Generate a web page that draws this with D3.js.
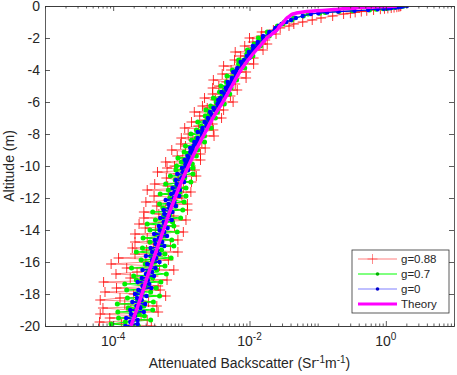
<!DOCTYPE html>
<html>
<head>
<meta charset="utf-8">
<title>Attenuated backscatter vs altitude</title>
<script src="https://d3js.org/d3.v7.min.js"></script>
<style>
  body { margin: 0; background: #fff; }
  text { font-family: "Liberation Sans", Arial, Helvetica, sans-serif; fill: #262626; }
</style>
</head>
<body>
<div id="chart"></div>
<script>
// altitude samples (m) shared by the three simulated profiles
var altitude = [0, -0.025, -0.05, -0.075, -0.1, -0.125, -0.15, -0.175, -0.2, -0.25, -0.3, -0.35, -0.4, -0.45,
  -0.5, -0.625, -0.75, -0.875,
  -1, -1.125, -1.25, -1.375, -1.5, -1.625, -1.75, -1.875,
  -2, -2.125, -2.25, -2.375, -2.5, -2.625, -2.75, -2.875,
  -3, -3.125, -3.25, -3.375, -3.5, -3.625, -3.75, -3.875,
  -4, -4.125, -4.25, -4.375, -4.5, -4.625, -4.75, -4.875,
  -5, -5.125, -5.25, -5.375, -5.5, -5.625, -5.75, -5.875,
  -6, -6.125, -6.25, -6.375, -6.5, -6.625, -6.75, -6.875,
  -7, -7.125, -7.25, -7.375, -7.5, -7.625, -7.75, -7.875,
  -8, -8.125, -8.25, -8.375, -8.5, -8.625, -8.75, -8.875,
  -9, -9.125, -9.25, -9.375, -9.5, -9.625, -9.75, -9.875,
  -10, -10.125, -10.25, -10.375, -10.5, -10.625, -10.75, -10.875,
  -11, -11.125, -11.25, -11.375, -11.5, -11.625, -11.75, -11.875,
  -12, -12.125, -12.25, -12.375, -12.5, -12.625, -12.75, -12.875,
  -13, -13.125, -13.25, -13.375, -13.5, -13.625, -13.75, -13.875,
  -14, -14.125, -14.25, -14.375, -14.5, -14.625, -14.75, -14.875,
  -15, -15.125, -15.25, -15.375, -15.5, -15.625, -15.75, -15.875,
  -16, -16.125, -16.25, -16.375, -16.5, -16.625, -16.75, -16.875,
  -17, -17.125, -17.25, -17.375, -17.5, -17.625, -17.75, -17.875,
  -18, -18.125, -18.25, -18.375, -18.5, -18.625, -18.75, -18.875,
  -19, -19.125, -19.25, -19.375, -19.5, -19.625, -19.75, -19.875,
  -20];

// g = 0.88
var betaG088 = [1.66, 1.62, 1.55, 1.45, 1.32, 1.20, 1.07, 0.955, 0.832, 0.661, 0.525, 0.437, 0.355, 0.302,
  0.240, 0.166, 0.112, 0.0832, 0.0603, 0.0447, 0.0380, 0.0282,
  2.24e-2, 1.51e-2, 2.45e-2, 1.48e-2, 1.00e-2, 1.70e-2, 1.12e-2, 1.82e-2, 8.51e-3, 1.12e-2,
  1.58e-2, 6.17e-3, 1.02e-2, 7.41e-3, 1.15e-2, 6.03e-3, 7.24e-3, 1.15e-2, 4.17e-3, 7.59e-3,
  5.37e-3, 8.91e-3, 3.98e-3, 5.75e-3, 8.91e-3, 2.95e-3, 4.57e-3, 6.17e-3, 3.55e-3, 2.88e-3,
  6.61e-3, 4.07e-3, 2.88e-3, 5.25e-3, 2.19e-3, 3.16e-3, 5.75e-3, 3.55e-3, 2.04e-3, 2.40e-3,
  4.17e-3, 1.55e-3, 3.09e-3, 1.86e-3, 3.89e-3, 2.24e-3, 1.41e-3, 2.88e-3, 1.78e-3, 1.12e-3,
  2.95e-3, 1.95e-3, 1.26e-3, 3.02e-3, 1.00e-3, 1.48e-3, 2.00e-3, 9.77e-4, 1.15e-3, 2.24e-3,
  7.24e-4, 1.35e-3, 1.91e-3, 8.71e-4, 1.05e-3, 1.91e-3, 5.89e-4, 1.23e-3, 7.94e-4,
  6.17e-4, 1.58e-3, 4.47e-4, 8.91e-4, 1.66e-3, 6.03e-4, 9.12e-4, 1.41e-3, 4.07e-4, 6.31e-4,
  1.07e-3, 3.16e-4, 1.38e-3, 6.46e-4, 3.98e-4, 1.02e-3, 7.41e-4, 3.02e-4, 1.23e-3, 4.37e-4,
  5.89e-4, 1.23e-3, 2.82e-4, 4.68e-4, 7.76e-4, 2.82e-4, 1.17e-3, 5.37e-4, 2.40e-4, 7.94e-4,
  2.95e-4, 4.17e-4, 1.07e-3, 2.09e-4, 5.37e-4, 3.16e-4, 8.91e-4, 2.09e-4, 3.89e-4, 6.92e-4,
  1.91e-4, 3.09e-4, 8.91e-4, 2.09e-4, 4.57e-4, 1.20e-4, 6.46e-4, 3.02e-4, 9.33e-5, 4.79e-4,
  1.58e-4, 7.76e-4, 2.24e-4, 1.10e-4, 3.89e-4, 1.78e-4, 6.17e-4, 7.24e-5, 2.63e-4, 4.57e-4,
  1.12e-4, 4.90e-4, 7.59e-5, 2.00e-4, 5.89e-4, 1.26e-4, 6.46e-5, 3.31e-4, 1.48e-4, 4.37e-4,
  7.08e-5, 1.82e-4, 4.57e-4, 6.46e-5, 2.57e-4, 8.91e-5, 3.16e-4, 6.31e-5, 1.32e-4, 3.63e-4];

// g = 0.7
var betaG07 = [1.82, 1.70, 1.58, 1.38, 1.32, 1.15, 1.02, 0.912, 0.724, 0.575, 0.324, 0.204, 0.129, 0.107,
  0.0724, 0.0617, 0.0447, 0.0417, 0.0324, 0.0309, 0.0257, 0.0251,
  2.40e-2, 1.82e-2, 1.91e-2, 1.95e-2, 1.35e-2, 1.45e-2, 1.48e-2, 1.17e-2, 1.45e-2, 1.12e-2,
  9.33e-3, 1.07e-2, 9.12e-3, 1.12e-2, 8.91e-3, 6.92e-3, 8.91e-3, 6.92e-3, 7.41e-3, 8.51e-3,
  5.62e-3, 6.17e-3, 6.61e-3, 4.68e-3, 5.62e-3, 6.46e-3, 4.57e-3, 5.25e-3, 3.80e-3, 5.37e-3,
  4.27e-3, 3.63e-3, 5.13e-3, 3.98e-3, 2.95e-3, 4.07e-3, 3.24e-3, 4.27e-3, 2.69e-3, 3.16e-3,
  2.29e-3, 3.39e-3, 2.57e-3, 2.24e-3, 3.16e-3, 2.40e-3, 1.74e-3, 2.45e-3, 1.95e-3, 2.75e-3,
  1.66e-3, 1.95e-3, 1.38e-3, 2.19e-3, 1.66e-3, 1.41e-3, 2.19e-3, 1.66e-3, 1.15e-3, 1.41e-3,
  1.74e-3, 1.10e-3, 1.23e-3, 1.66e-3, 8.91e-4, 1.23e-3, 1.00e-3, 1.45e-3, 8.51e-4,
  1.48e-3, 8.32e-4, 1.10e-3, 1.48e-3, 6.92e-4, 1.12e-3, 8.13e-4, 1.38e-3, 5.89e-4, 8.51e-4,
  1.17e-3, 6.46e-4, 9.55e-4, 4.90e-4, 1.17e-3, 6.76e-4, 7.59e-4, 1.10e-3, 4.79e-4, 8.32e-4,
  5.37e-4, 1.05e-3, 3.80e-4, 6.76e-4, 5.50e-4, 9.77e-4, 4.17e-4, 7.41e-4, 3.16e-4, 7.76e-4,
  5.13e-4, 3.47e-4, 8.71e-4, 4.17e-4, 5.75e-4, 2.75e-4, 7.24e-4, 3.47e-4, 4.90e-4, 7.76e-4,
  2.69e-4, 5.13e-4, 2.19e-4, 5.75e-4, 3.55e-4, 7.08e-4, 2.57e-4, 4.07e-4, 2.95e-4, 5.75e-4,
  1.86e-4, 4.37e-4, 3.24e-4, 6.03e-4, 2.00e-4, 3.80e-4, 2.19e-4, 5.01e-4, 1.48e-4, 3.16e-4,
  4.27e-4, 1.58e-4, 3.55e-4, 2.19e-4, 4.79e-4, 1.62e-4, 2.29e-4, 3.89e-4, 1.15e-4, 2.82e-4,
  1.66e-4, 3.80e-4, 1.17e-4, 2.40e-4, 2.88e-4, 1.20e-4, 3.55e-4, 1.51e-4, 9.33e-5, 2.34e-4];

// g = 0
var betaG0 = [2.04, 1.78, 1.66, 1.51, 1.38, 1.20, 1.07, 0.933, 0.759, 0.550, 0.347, 0.200, 0.138, 0.102,
  0.0794, 0.0603, 0.0479, 0.0407, 0.0347, 0.0295, 0.0269, 0.0240,
  2.34e-2, 1.95e-2, 1.95e-2, 1.58e-2, 1.58e-2, 1.62e-2, 1.32e-2, 1.32e-2, 1.12e-2, 1.26e-2,
  1.12e-2, 9.77e-3, 1.02e-2, 9.12e-3, 1.00e-2, 8.32e-3, 7.41e-3, 7.76e-3, 7.76e-3, 6.61e-3,
  6.46e-3, 5.75e-3, 6.31e-3, 6.31e-3, 5.50e-3, 5.50e-3, 4.79e-3, 5.37e-3, 4.79e-3, 4.47e-3,
  4.68e-3, 3.89e-3, 4.27e-3, 4.37e-3, 3.72e-3, 3.47e-3, 3.72e-3, 3.39e-3, 3.47e-3, 2.95e-3,
  3.09e-3, 2.63e-3, 2.75e-3, 2.88e-3, 2.45e-3, 2.57e-3, 2.19e-3, 2.34e-3, 2.34e-3, 2.04e-3,
  2.04e-3, 1.74e-3, 2.00e-3, 2.04e-3, 1.74e-3, 1.74e-3, 1.55e-3, 1.70e-3, 1.51e-3, 1.35e-3,
  1.48e-3, 1.35e-3, 1.48e-3, 1.23e-3, 1.29e-3, 1.12e-3, 1.26e-3, 1.15e-3, 1.15e-3,
  1.02e-3, 1.26e-3, 1.05e-3, 8.71e-4, 1.12e-3, 1.00e-3, 8.32e-4, 1.10e-3, 8.51e-4, 9.33e-4,
  7.41e-4, 9.55e-4, 7.94e-4, 7.08e-4, 9.33e-4, 7.76e-4, 5.89e-4, 7.94e-4, 6.46e-4, 8.32e-4,
  6.61e-4, 5.50e-4, 7.41e-4, 5.62e-4, 6.61e-4, 4.90e-4, 7.24e-4, 5.50e-4, 5.75e-4, 4.68e-4,
  6.31e-4, 4.79e-4, 5.62e-4, 3.98e-4, 6.17e-4, 4.68e-4, 4.07e-4, 5.25e-4, 4.17e-4, 5.62e-4,
  3.55e-4, 4.47e-4, 3.72e-4, 4.79e-4, 3.02e-4, 4.27e-4, 3.72e-4, 4.79e-4, 3.16e-4, 3.55e-4,
  4.17e-4, 2.69e-4, 3.72e-4, 3.02e-4, 3.98e-4, 2.63e-4, 3.24e-4, 2.29e-4, 3.39e-4, 2.69e-4,
  3.63e-4, 2.34e-4, 2.69e-4, 2.09e-4, 3.09e-4, 2.24e-4, 2.63e-4, 1.91e-4, 2.95e-4, 2.19e-4,
  2.51e-4, 1.78e-4, 2.82e-4, 1.82e-4, 2.09e-4, 1.55e-4, 2.29e-4, 1.78e-4, 2.29e-4, 1.51e-4];

// theory curve
var theoryAltitude = [0, -0.025, -0.05, -0.075, -0.1, -0.125, -0.15, -0.175, -0.2, -0.25, -0.3, -0.35, -0.4, -0.45,
  -0.5, -0.625, -0.75, -1, -1.25, -1.5, -2, -2.5, -3, -4, -5, -6, -7, -8, -9, -10,
  -11, -12, -13, -14, -15, -16, -17, -18, -19, -20];
var theoryBeta = [1.45, 1.07, 0.789, 0.603, 0.460, 0.363, 0.286, 0.234, 0.198, 0.146, 0.0973, 0.0695, 0.0548, 0.0479,
  0.0433, 0.0391, 0.0353, 0.0319, 0.0279, 0.0252, 0.0180, 0.0142, 0.0112, 7.48e-3, 5.52e-3, 4.07e-3, 2.90e-3, 2.18e-3, 1.64e-3, 1.27e-3,
  1.00e-3, 8.05e-4, 6.58e-4, 5.47e-4, 4.54e-4, 3.77e-4, 3.13e-4, 2.64e-4, 2.20e-4, 1.82e-4];

var yTicks = [0, -2, -4, -6, -8, -10, -12, -14, -16, -18, -20];
var xMajorTicks = [1e-4, 1e-2, 1];
var xTickExponents = ["-4", "-2", "0"];
var legendLabels = ["g=0.88", "g=0.7", "g=0", "Theory"];

var width = 457, height = 375;
var margin = {top: 6, right: 3, bottom: 49, left: 45};
var axisColor = "#333";

var svg = d3.select("#chart").append("svg")
    .attr("width", width)
    .attr("height", height);

var x = d3.scaleLog().domain([1e-5, 10]).range([margin.left, width - margin.right]);
var y = d3.scaleLinear().domain([-20, 0]).range([height - margin.bottom, margin.top]);

svg.append("clipPath").attr("id", "plot-clip")
  .append("rect")
    .attr("x", margin.left).attr("y", margin.top)
    .attr("width", width - margin.left - margin.right)
    .attr("height", height - margin.top - margin.bottom);

function points(alts, vals) {
  return alts.map(function(a, i) { return {a: a, v: vals[i]}; });
}
var line = d3.line().x(function(d) { return x(d.v); }).y(function(d) { return y(d.a); });

var plot = svg.append("g").attr("clip-path", "url(#plot-clip)");

// g=0.88 : red line + plus markers
var redPts = points(altitude, betaG088);
plot.append("path").datum(redPts)
    .attr("d", line).attr("fill", "none")
    .attr("stroke", "#ff0000").attr("stroke-opacity", 0.45).attr("stroke-width", 1);
plot.append("path")
    .attr("d", redPts.map(function(p) {
      var px = x(p.v), py = y(p.a);
      return "M" + (px - 5) + "," + py + "h10M" + px + "," + (py - 5) + "v10";
    }).join(""))
    .attr("fill", "none").attr("stroke", "#ff0000").attr("stroke-opacity", 0.8).attr("stroke-width", 1);

// g=0.7 : green
var greenPts = points(altitude, betaG07);
plot.append("path").datum(greenPts)
    .attr("d", line).attr("fill", "none")
    .attr("stroke", "#00ff00").attr("stroke-width", 1.2);
plot.selectAll(".gdot").data(greenPts).enter().append("circle")
    .attr("class", "gdot")
    .attr("cx", function(d) { return x(d.v); })
    .attr("cy", function(d) { return y(d.a); })
    .attr("r", 2.5).attr("fill", "#00f000");

// g=0 : blue
var bluePts = points(altitude, betaG0);
plot.append("path").datum(bluePts)
    .attr("d", line).attr("fill", "none")
    .attr("stroke", "#0000ff").attr("stroke-width", 1.2);
plot.selectAll(".bdot").data(bluePts).enter().append("circle")
    .attr("class", "bdot")
    .attr("cx", function(d) { return x(d.v); })
    .attr("cy", function(d) { return y(d.a); })
    .attr("r", 2.2).attr("fill", "#0000ff");

// theory
plot.append("path").datum(points(theoryAltitude, theoryBeta))
    .attr("d", line.curve(d3.curveMonotoneY)).attr("fill", "none")
    .attr("stroke", "#ff00ff").attr("stroke-width", 3.5);

// axes (ticks inward, box on)
var xMinor = x.ticks().filter(function(t) { return xMajorTicks.indexOf(t) < 0; });

function styleAxis(g) {
  g.selectAll("path, line").attr("stroke", axisColor).attr("stroke-width", 0.8);
  g.selectAll("text").attr("font-size", 14).attr("fill", "#262626")
    .attr("font-family", '"Liberation Sans", Arial, sans-serif');
}

var bottomY = y(-20), topY = y(0), leftX = x(1e-5), rightX = x(10);

svg.append("g").attr("transform", "translate(0," + bottomY + ")")
  .call(d3.axisBottom(x).tickValues(xMajorTicks).tickSizeInner(-5).tickSizeOuter(0).tickFormat(""))
  .call(styleAxis);
svg.append("g").attr("transform", "translate(0," + bottomY + ")")
  .call(d3.axisBottom(x).tickValues(xMinor).tickSizeInner(-2.5).tickSizeOuter(0).tickFormat(""))
  .call(styleAxis);
svg.append("g").attr("transform", "translate(0," + topY + ")")
  .call(d3.axisTop(x).tickValues(xMajorTicks).tickSizeInner(-5).tickSizeOuter(0).tickFormat(""))
  .call(styleAxis);
svg.append("g").attr("transform", "translate(0," + topY + ")")
  .call(d3.axisTop(x).tickValues(xMinor).tickSizeInner(-2.5).tickSizeOuter(0).tickFormat(""))
  .call(styleAxis);
svg.append("g").attr("transform", "translate(" + leftX + ",0)")
  .call(d3.axisLeft(y).tickValues(yTicks).tickSizeInner(-5).tickSizeOuter(0).tickPadding(5)
    .tickFormat(function(d) { return String(d); }))
  .call(styleAxis);
svg.append("g").attr("transform", "translate(" + rightX + ",0)")
  .call(d3.axisRight(y).tickValues(yTicks).tickSizeInner(-5).tickSizeOuter(0).tickFormat(""))
  .call(styleAxis);

// x tick labels 10^n
xMajorTicks.forEach(function(t, i) {
  var txt = svg.append("text")
      .attr("x", x(t)).attr("y", 346)
      .attr("text-anchor", "middle").attr("font-size", 14);
  txt.append("tspan").text("10");
  txt.append("tspan").attr("dy", -6).attr("font-size", 10).text(xTickExponents[i]);
});

// axis titles
var xt = svg.append("text")
    .attr("x", (leftX + rightX) / 2).attr("y", 368)
    .attr("text-anchor", "middle").attr("font-size", 14);
xt.append("tspan").text("Attenuated Backscatter (Sr");
xt.append("tspan").attr("dy", -5).attr("font-size", 10).text("-1");
xt.append("tspan").attr("dy", 5).text("m");
xt.append("tspan").attr("dy", -5).attr("font-size", 10).text("-1");
xt.append("tspan").attr("dy", 5).text(")");

svg.append("text")
    .attr("transform", "translate(14," + ((topY + bottomY) / 2) + ") rotate(-90)")
    .attr("text-anchor", "middle").attr("font-size", 14)
    .text("Altitude (m)");

// legend
var lg = svg.append("g").attr("transform", "translate(352,250)");
lg.append("rect").attr("width", 97).attr("height", 63)
    .attr("fill", "#fff").attr("stroke", axisColor).attr("stroke-width", 0.8);

var legendStyles = [
  {stroke: "#ff0000", opacity: 0.5, width: 1, marker: "plus", mcolor: "#ff0000"},
  {stroke: "#00ff00", opacity: 1, width: 1, marker: "dot", mcolor: "#00b000"},
  {stroke: "#0000ff", opacity: 0.5, width: 1, marker: "dot", mcolor: "#0000cc"},
  {stroke: "#ff00ff", opacity: 1, width: 3, marker: null}
];

legendLabels.forEach(function(label, i) {
  var ry = 9 + i * 15, st = legendStyles[i];
  lg.append("line").attr("x1", 6).attr("x2", 45).attr("y1", ry).attr("y2", ry)
    .attr("stroke", st.stroke).attr("stroke-opacity", st.opacity).attr("stroke-width", st.width);
  if (st.marker === "plus") {
    lg.append("path").attr("d", "M20.5," + (ry - 5) + "v10M15.5," + ry + "h10")
      .attr("stroke", st.mcolor).attr("stroke-opacity", 0.45).attr("fill", "none");
  } else if (st.marker === "dot") {
    lg.append("circle").attr("cx", 25.5).attr("cy", ry).attr("r", 1.8).attr("fill", st.mcolor);
  }
  lg.append("text").attr("x", 49).attr("y", ry).attr("dy", "0.35em")
    .attr("font-size", 11.5).text(label);
});
</script>
</body>
</html>
